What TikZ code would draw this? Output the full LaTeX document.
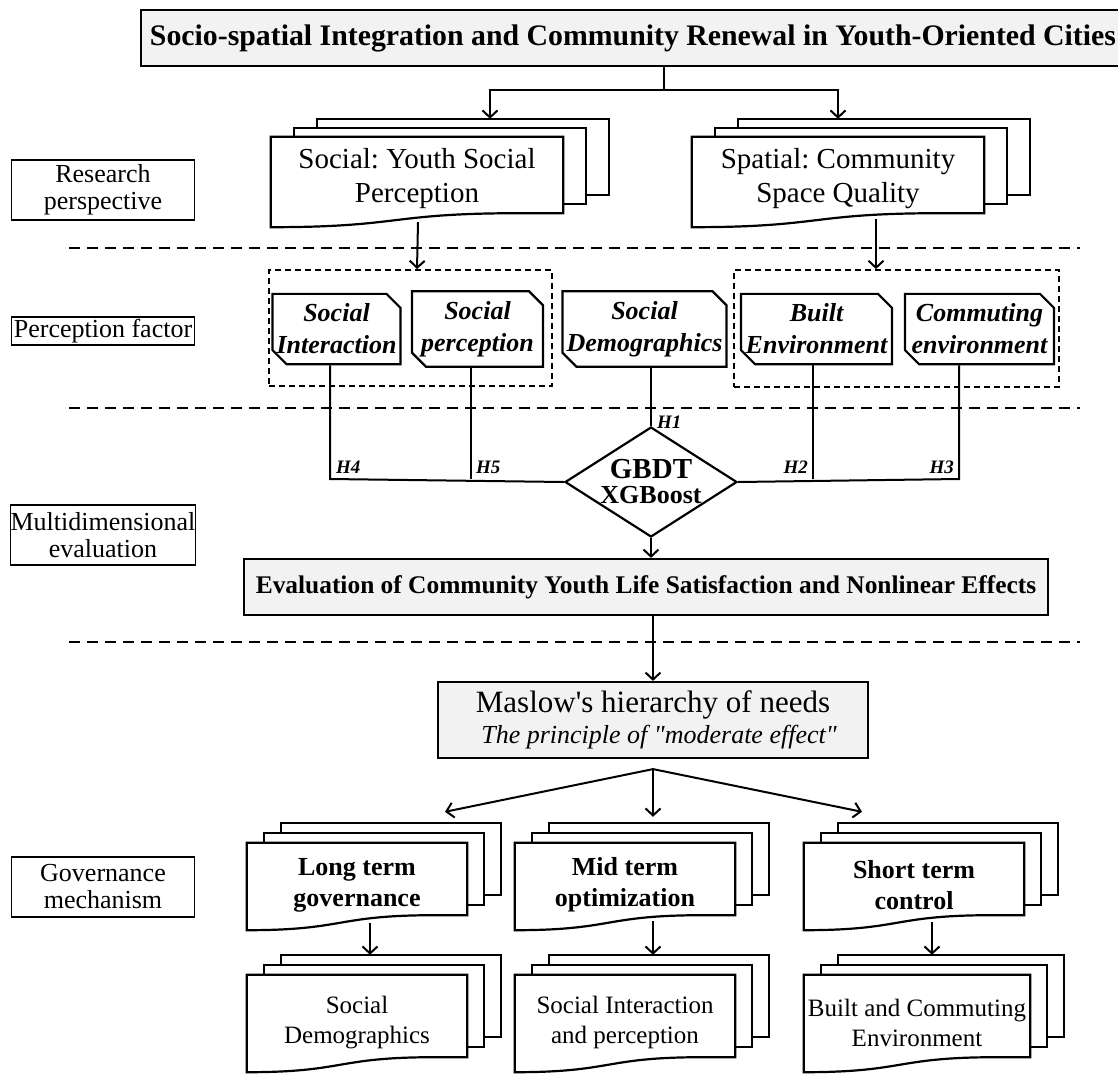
\documentclass[tikz,border=0pt]{standalone}
\usepackage{fontspec}
\setmainfont{Liberation Serif}
\usetikzlibrary{shapes.geometric, shapes.misc, arrows.meta, positioning, calc, backgrounds}
\definecolor{boxgray}{HTML}{F2F2F2}
\frenchspacing

% stacked document shape behind a node: #1 node, #2/#3 layer offset, #4 wave depth
\newcommand{\docstack}[4]{%
  \begin{scope}[on background layer]
    \draw[docline, fill=white] ($(#1.south west)+(2*#2,2*#3)$) rectangle ($(#1.north east)+(2*#2,2*#3)$);
    \draw[docline, fill=white] ($(#1.south west)+(#2,#3)$) rectangle ($(#1.north east)+(#2,#3)$);
    \draw[docline, fill=white] (#1.south east) -- (#1.north east) -- (#1.north west)
      -- ($(#1.south west)+(0,#4)$)
      .. controls ($(#1.south west)!0.45!(#1.south east)+(0,#4)$) and ($(#1.south west)!0.4!(#1.south east)$)
      .. ($(#1.south west)!0.85!(#1.south east)$) -- cycle;
  \end{scope}}
% taller first line, pushes the text down inside its document
\newcommand{\firstline}[1]{\rule{0pt}{#1}}

\begin{document}
\begin{tikzpicture}[
    x=1pt, y=-1pt,
    titlebox/.style={rectangle, draw, line width=2.6pt, fill=boxgray, inner sep=0pt, font=\fontsize{29.8}{32}\selectfont\bfseries},
    mainbox/.style={rectangle, draw, line width=2.2pt, fill=boxgray, inner sep=0pt, align=center},
    labelbox/.style={rectangle, draw, line width=1.2pt, inner sep=0pt, align=center, minimum width=183pt, font=\fontsize{26}{27}\selectfont},
    docnode/.style={inner sep=0pt, align=center},
    docline/.style={line width=2.2pt, line join=miter},
    factor/.style={chamfered rectangle, chamfered rectangle corners={north east, south west}, chamfered rectangle xsep=4pt, chamfered rectangle ysep=10pt, draw, line width=2.2pt, inner sep=0pt, minimum height=70pt, align=center, font=\fontsize{26}{32}\selectfont\bfseries\itshape},
    groupbox/.style={rectangle, draw, line width=1.8pt, dash pattern=on 6pt off 4pt},
    sepline/.style={line width=2.2pt, dash pattern=on 11pt off 7pt},
    conn/.style={line width=2pt},
    arr/.style={-{Straight Barb[length=7pt, width=15pt, line width=2pt]}, line width=2pt},
    hlabel/.style={inner sep=0pt, font=\fontsize{19}{19}\selectfont\bfseries\itshape}
]
\useasboundingbox (0,0) rectangle (1118,1073);

% Title
\node[titlebox, minimum width=984pt, minimum height=56pt] (title) at (633,38) {Socio-spatial Integration and Community Renewal in Youth-Oriented Cities};

% Research perspective
\node[docnode, minimum width=292pt, minimum height=76pt, font=\fontsize{29}{34}\selectfont] (soc) at (417,175) {\firstline{28pt}Social: Youth Social\\Perception};
\docstack{soc}{23}{-9}{14}
\node[docnode, minimum width=292pt, minimum height=76pt, font=\fontsize{29}{34}\selectfont] (spat) at (838,175) {\firstline{28pt}Spatial: Community\\Space Quality};
\docstack{spat}{23}{-9}{14}

\coordinate (split) at (664,90);
\draw[conn] (title.south -| split) -- (split);
\draw[arr] (split) -| ($(soc.north)+(73,-18)$);
\draw[arr] (split) -| ($(spat.north)+(0,-18)$);

% Left stage labels
\node[labelbox, minimum height=60pt] (lresearch) at (103,190) {Research\\perspective};
\node[labelbox, minimum height=28pt] (lfactor) at (103,331) {Perception factor};
\node[labelbox, minimum height=60pt] (leval) at (103,535) {Multidimensional\\evaluation};
\node[labelbox, minimum height=60pt] (lgov) at (103,887) {Governance\\mechanism};

% Separators
\draw[sepline] (69,248) -- (1080,248);
\draw[sepline] (69,408) -- (1080,408);
\draw[sepline] (69,642) -- (1080,642);

% Perception factors
\node[groupbox, minimum width=283pt, minimum height=116pt] (sgroup) at (410.5,328) {};
\node[groupbox, minimum width=325pt, minimum height=117pt] (egroup) at (896.5,328.5) {};
\node[factor, minimum width=123pt] (inter) at (336.5,329) {Social\\Interaction};
\node[factor, minimum width=131pt] (perc) at (477.5,329) {Social\\perception};
\node[factor, minimum width=163pt] (demo) at (644.5,329) {Social\\Demographics};
\node[factor, minimum width=151pt] (built) at (816.5,329) {Built\\Environment};
\node[factor, minimum width=149pt] (commute) at (979.5,329) {Commuting\\environment};

\draw[arr] ($(soc.south)+(1,9)$) -- (sgroup.north -| soc.south);
\coordinate (spatout) at ($(spat.south)+(38,6)$);
\draw[arr] (spatout) -- (egroup.north -| spatout);

% Model
\node[diamond, draw, line width=2.2pt, fill=white, aspect=1.56, minimum width=172pt, minimum height=110pt, inner sep=-4pt, align=center, font=\fontsize{26}{25}\selectfont\bfseries] (gbdt) at (651,482)
  {{\fontsize{29}{25}\selectfont GBDT}\\XGBoost};

\coordinate (h4) at (330,479);
\coordinate (h5) at (471,479);
\coordinate (h2) at (813,479);
\coordinate (h3) at (959,479);
\draw[conn] (inter.south -| h4) -- (h4) -- (gbdt.west);
\draw[conn] (perc.south -| h5) -- (h5);
\draw[conn] (demo.south -| gbdt.north) -- (gbdt.north);
\draw[conn] (built.south -| h2) -- (h2);
\draw[conn] (commute.south -| h3) -- (h3) -- (gbdt.east);

\node[hlabel, anchor=base west] (lh4) at (336,473) {H4};
\node[hlabel, anchor=base west] (lh5) at (476,473) {H5};
\node[hlabel, anchor=base west] (lh1) at (657,428) {H1};
\node[hlabel, anchor=base east] (lh2) at (808,473) {H2};
\node[hlabel, anchor=base east] (lh3) at (954,473) {H3};

% Evaluation
\node[mainbox, minimum width=804pt, minimum height=56pt, font=\fontsize{25.4}{28}\selectfont\bfseries] (eval) at (646,587) {Evaluation of Community Youth Life Satisfaction and Nonlinear Effects};
\draw[arr] (gbdt.south) -- (eval.north -| gbdt.south);

% Maslow
\node[mainbox, minimum width=430pt, minimum height=76pt, font=\fontsize{31}{31}\selectfont] (maslow) at (653,720)
  {Maslow\textquotesingle s hierarchy of needs\\ \hspace*{12pt}{\fontsize{26}{31}\selectfont\itshape The principle of \textquotedbl moderate effect\textquotedbl}};
\draw[arr] (eval.south -| maslow.north) -- (maslow.north);

% Governance mechanism
\node[docnode, minimum width=220pt, minimum height=72pt, font=\fontsize{26}{31}\selectfont\bfseries] (longterm) at (357,879) {\firstline{30pt}Long term\\governance};
\docstack{longterm}{17}{-10}{15}
\node[docnode, minimum width=220pt, minimum height=72pt, font=\fontsize{26}{31}\selectfont\bfseries] (midterm) at (625,879) {\firstline{30pt}Mid term\\optimization};
\docstack{midterm}{17}{-10}{15}
\node[docnode, minimum width=220pt, minimum height=72pt, font=\fontsize{26}{31}\selectfont\bfseries] (shortterm) at (914,879) {\firstline{30pt}Short term\\control};
\docstack{shortterm}{17}{-10}{15}

\node[docnode, minimum width=220pt, minimum height=82pt, font=\fontsize{25}{30}\selectfont] (socdemo) at (357,1016) {\firstline{31pt}Social\\Demographics};
\docstack{socdemo}{17}{-10}{15}
\node[docnode, minimum width=220pt, minimum height=82pt, font=\fontsize{25}{30}\selectfont] (socint) at (625,1016) {\firstline{31pt}Social Interaction\\and perception};
\docstack{socint}{17}{-10}{15}
\node[docnode, minimum width=226pt, minimum height=82pt, font=\fontsize{25}{30}\selectfont] (builtcomm) at (917,1016) {\firstline{31pt}Built and Commuting\\Environment};
\docstack{builtcomm}{17}{-10}{15}

\coordinate (fork) at ($(maslow.south)+(0,10)$);
\draw[arr] (fork) -- ($(longterm.north)+(88,-31)$);
\draw[arr] (fork) -- ($(midterm.north)+(28,-26)$);
\draw[arr] (fork) -- ($(shortterm.north)+(-52,-31)$);

\draw[arr] ($(longterm.south)+(13,8)$) -- ($(socdemo.north)+(13,-20)$);
\draw[arr] ($(midterm.south)+(28,6)$) -- ($(socint.north)+(28,-20)$);
\draw[arr] ($(shortterm.south)+(18,7)$) -- ($(builtcomm.north)+(15,-20)$);

\end{tikzpicture}
\end{document}
